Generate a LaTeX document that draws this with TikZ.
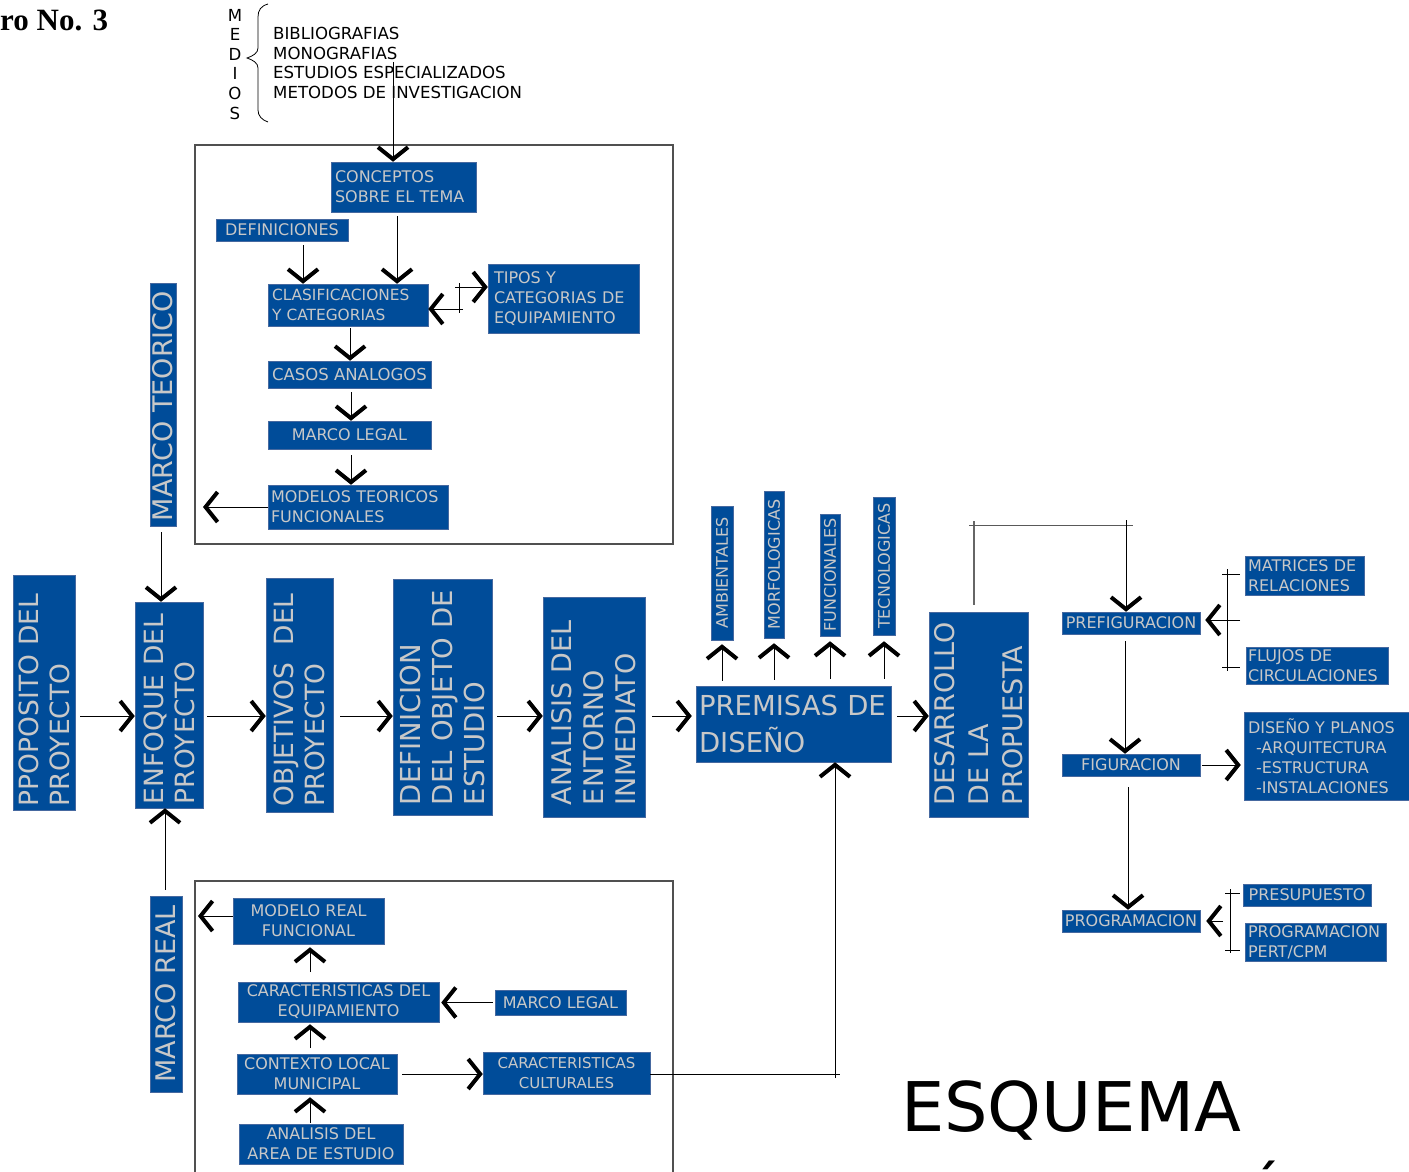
\documentclass[tikz,border=0pt]{standalone}
\usepackage{fontspec}
\setmainfont{DejaVu Sans}
\newfontfamily\titleserif{Liberation Serif}
\usetikzlibrary{arrows.meta,calc}
\definecolor{boxblue}{RGB}{0,76,153}
\definecolor{boxtext}{RGB}{200,200,200}
\definecolor{boxedge}{RGB}{70,105,160}
\definecolor{framegray}{RGB}{80,80,80}
\newcommand\fsz[2]{\fontsize{#1}{#2}\selectfont}
\begin{document}
\begin{tikzpicture}[x=1pt,y=-1pt,
  bx/.style={fill=boxblue,draw=boxedge,line width=0.5pt,text=boxtext,inner xsep=4pt,inner ysep=0pt,font=\fsz{16}{20}},
  rbx/.style={bx,rotate=90,font=\fsz{26.5}{31}},
  sbx/.style={bx,rotate=90,font=\fsz{16}{20}},
  arr/.style={line width=0.8pt,-{Straight Barb[length=12pt,width=30pt,line width=4pt]}},
  ln/.style={line width=0.8pt},
  frm/.style={draw=framegray,line width=1.2pt},
  plain/.style={inner sep=0pt,font=\fsz{16.6}{20}}]
\useasboundingbox (0,0) rectangle (1409,1172);

% ---------- header ----------
\node[anchor=base west,inner sep=0pt,font=\titleserif\bfseries\fsz{31}{34}] (title) at (0,31) {ro No. 3};
\node[plain] (mM) at (235,15) {M};
\node[plain] (mE) at (235,34) {E};
\node[plain] (mD) at (235,54) {D};
\node[plain] (mI) at (235,73) {I};
\node[plain] (mO) at (235,93) {O};
\node[plain] (mS) at (235,113) {S};
\draw[line width=0.8pt] (268,4) .. controls (261,6) and (258,10) .. (258,17) -- (258,48) .. controls (258,53) and (253,56) .. (247,58) .. controls (253,60) and (258,63) .. (258,68) -- (258,110) .. controls (258,116) and (262,120) .. (268,122);
\node[plain,anchor=west] (l1) at (273,33.5) {BIBLIOGRAFIAS};
\node[plain,anchor=west] (l2) at (273,53.5) {MONOGRAFIAS};
\node[plain,anchor=west] (l3) at (273,72.5) {ESTUDIOS ESPECIALIZADOS};
\node[plain,anchor=west] (l4) at (273,92.5) {METODOS DE INVESTIGACION};

% ---------- top frame ----------
\draw[frm] (195,145) rectangle (673,544);
\node[bx,minimum width=145pt,minimum height=50pt,text width=137pt,align=left] (conc) at (403.5,187) {CONCEPTOS\\SOBRE EL TEMA};
\node[bx,minimum width=132pt,minimum height=22pt,align=center] (def) at (282,230) {DEFINICIONES};
\node[bx,minimum width=160pt,minimum height=42pt,text width=152pt,align=left,font=\fsz{15.4}{20}] (clas) at (348,305) {CLASIFICACIONES\\Y CATEGORIAS};
\node[bx,minimum width=151pt,minimum height=69pt,text width=139pt,inner xsep=6pt,align=left] (tipos) at (563.5,298.5) {TIPOS Y\\CATEGORIAS DE\\EQUIPAMIENTO};
\node[bx,minimum width=163pt,minimum height=27pt,align=center,font=\fsz{16.5}{20}] (casos) at (349.5,374.5) {CASOS ANALOGOS};
\node[bx,minimum width=163pt,minimum height=28pt,align=center] (mleg) at (349.5,435) {MARCO LEGAL};
\node[bx,minimum width=180pt,minimum height=44pt,text width=174pt,inner xsep=3pt,align=left] (mod) at (358,507) {MODELOS TEORICOS\\FUNCIONALES};

\coordinate (m1) at (393,62);
\draw[arr] (m1) -- (m1 |- conc.north);
\coordinate (d1) at ($(def.south)+(21,4)$);
\draw[arr] (d1) -- (d1 |- clas.north);
\coordinate (c3) at ($(conc.south)+(-6.5,4)$);
\draw[arr] (c3) -- (c3 |- clas.north);
\coordinate (t1) at (455,287);
\draw[arr] (t1) -- (t1 -| tipos.west);
\coordinate (t2) at (463,309);
\draw[arr] (t2) -- (t2 -| clas.east);
\draw[ln] (459,283) -- (459,313);
\coordinate (k1) at ($(clas.south)+(2,2)$);
\draw[arr] (k1) -- (k1 |- casos.north);
\coordinate (k2) at ($(casos.south)+(1.5,4)$);
\draw[arr] (k2) -- (k2 |- mleg.north);
\coordinate (k3) at ($(mleg.south)+(1.5,6)$);
\draw[arr] (k3) -- (k3 |- mod.north);
\coordinate (ml) at (203,507);
\draw[arr] (mod.west) -- (ml);

% ---------- marco teorico ----------
\node[bx,rotate=90,minimum width=243pt,minimum height=26pt,text width=233pt,inner xsep=5pt,align=left,font=\fsz{27}{31}] (mteo) at (163,404.5) {MARCO TEORICO};

% ---------- main row ----------
\node[rbx,minimum width=235pt,minimum height=62pt,text width=227pt,align=left] (pro) at (44,692.5) {PPOPOSITO DEL\\PROYECTO};
\node[rbx,minimum width=206pt,minimum height=68pt,text width=198pt,align=left] (enf) at (169,705) {ENFOQUE DEL\\PROYECTO};
\node[rbx,minimum width=234pt,minimum height=67pt,text width=222pt,inner xsep=6pt,align=left] (obj) at (299.5,695) {OBJETIVOS\ \ DEL\\PROYECTO};
\node[rbx,minimum width=236pt,minimum height=99pt,text width=216pt,inner xsep=10pt,align=left,font=\fsz{27.5}{32}] (defn) at (442.5,697) {DEFINICION\\DEL OBJETO DE\\ESTUDIO};
\node[rbx,minimum width=220pt,minimum height=102pt,text width=196pt,inner xsep=12pt,align=left,font=\fsz{27}{32}] (ana) at (594,707) {ANALISIS DEL\\ENTORNO\\INMEDIATO};
\node[bx,minimum width=195pt,minimum height=76pt,text width=189pt,inner xsep=3pt,align=left,font=\fsz{27.5}{37}] (prem) at (793.5,724) {PREMISAS DE\\DISEÑO};
\node[rbx,minimum width=205pt,minimum height=99pt,text width=181pt,inner xsep=12pt,align=left,font=\fsz{27}{34}] (des) at (978.5,714.5) {DESARROLLO\\DE LA\\PROPUESTA};

\coordinate (row) at (0,716);
\draw[arr] ($(pro.south |- row)+(5,0)$) -- (enf.north |- row);
\draw[arr] ($(enf.south |- row)+(4,0)$) -- (obj.north |- row);
\draw[arr] ($(obj.south |- row)+(7,0)$) -- (defn.north |- row);
\draw[arr] ($(defn.south |- row)+(5,0)$) -- (ana.north |- row);
\draw[arr] ($(ana.south |- row)+(7,0)$) -- ($(prem.west |- row)+(-4,0)$);
\draw[arr] ($(prem.east |- row)+(6,0)$) -- (des.north |- row);

\coordinate (q1) at ($(mteo.west)+(-2,6)$);
\draw[arr] (q1) -- (q1 |- enf.east);

% ---------- marco real ----------
\node[bx,rotate=90,minimum width=196pt,minimum height=32pt,align=center,font=\fsz{27}{31}] (mreal) at (166,994) {MARCO REAL};
\coordinate (r1) at ($(mreal.east)+(-1,-6)$);
\draw[arr] (r1) -- (r1 |- enf.west);

% ---------- premisas sub boxes ----------
\node[sbx,minimum width=134pt,minimum height=22pt,align=center] (amb) at (722,573) {AMBIENTALES};
\node[sbx,minimum width=147pt,minimum height=20pt,align=center] (mor) at (774,564.5) {MORFOLOGICAS};
\node[sbx,minimum width=122pt,minimum height=20pt,align=center] (fun) at (830,575) {FUNCIONALES};
\node[sbx,minimum width=138pt,minimum height=22pt,align=center] (tec) at (884,566) {TECNOLOGICAS};
\draw[arr,shorten <=5pt,shorten >=4pt] (prem.north -| amb.west) -- (amb.west);
\draw[arr,shorten <=6pt,shorten >=5pt] (prem.north -| mor.west) -- (mor.west);
\draw[arr,shorten <=7pt,shorten >=5pt] (prem.north -| fun.west) -- (fun.west);
\draw[arr,shorten <=7pt,shorten >=6pt] (prem.north -| tec.west) -- (tec.west);

% ---------- right side ----------
\node[bx,minimum width=138pt,minimum height=22pt,align=center,inner xsep=1pt] (pref) at (1131,623) {PREFIGURACION};
\node[bx,minimum width=119pt,minimum height=39pt,text width=113pt,inner xsep=3pt,align=left] (mat) at (1304.5,575.5) {MATRICES DE\\RELACIONES};
\node[bx,minimum width=142pt,minimum height=37pt,text width=138pt,inner xsep=2pt,align=left] (flu) at (1317,665.5) {FLUJOS DE\\CIRCULACIONES};
\node[bx,minimum width=138pt,minimum height=22pt,align=center] (fig) at (1131,765) {FIGURACION};
\node[bx,minimum width=165pt,minimum height=88pt,text width=157pt,align=left] (dis) at (1326.5,756) {DISEÑO Y PLANOS\\\hspace*{8pt}-ARQUITECTURA\\\hspace*{8pt}-ESTRUCTURA\\\hspace*{8pt}-INSTALACIONES};
\node[bx,minimum width=138pt,minimum height=22pt,align=center,inner xsep=1pt] (prog) at (1131,921) {PROGRAMACION};
\node[bx,minimum width=128pt,minimum height=22pt,align=center] (pres) at (1307,895) {PRESUPUESTO};
\node[bx,minimum width=141pt,minimum height=38pt,text width=135pt,inner xsep=3pt,align=left] (pert) at (1315.5,942) {PROGRAMACION\\PERT/CPM};

\coordinate (dd0) at ($(des.east)+(-4.5,-7)$);
\coordinate (dd1) at (974,521);
\draw[ln,draw=black!60,line width=1.2pt] (dd0) -- (dd1);
\draw[ln,draw=black!65] (969,525) -- (1133,525);
\coordinate (dd2) at (1126,520);
\draw[arr] (dd2) -- (dd2 |- pref.north);

\draw[ln] (1227,569) -- (1227,671);
\draw[ln] (1222,574) -- (1240,574);
\draw[ln] (1222,667) -- (1240,667);
\coordinate (pb) at (1240,620);
\draw[arr,shorten >=5pt] (pb) -- (pb -| pref.east);

\coordinate (f1) at ($(pref.south)+(-6,7)$);
\draw[arr] (f1) -- (f1 |- fig.north);
\draw[arr] ($(fig.east)+(2,0)$) -- ($(dis.west |- fig.east)+(-3,0)$);
\coordinate (g1) at ($(fig.south)+(-3,11)$);
\draw[arr] (g1) -- (g1 |- prog.north);

\draw[ln] (1230,889) -- (1230,953);
\draw[ln] (1225,893) -- (1240,893);
\draw[ln] (1225,950) -- (1240,950);
\coordinate (pg) at (1223,921);
\draw[arr,shorten >=6pt] (pg) -- (pg -| prog.east);

% ---------- bottom frame ----------
\draw[frm] (195,1190) -- (195,881) -- (673,881) -- (673,1190);
\node[bx,minimum width=151pt,minimum height=46pt,align=center] (mrf) at (308.5,921) {MODELO REAL\\FUNCIONAL};
\node[bx,minimum width=201pt,minimum height=40pt,align=center,inner xsep=2pt] (ceq) at (338.5,1002) {CARACTERISTICAS DEL\\EQUIPAMIENTO};
\node[bx,minimum width=131pt,minimum height=25pt,align=center] (mlb) at (560.5,1002.5) {MARCO LEGAL};
\node[bx,minimum width=160pt,minimum height=40pt,align=center] (ctx) at (317,1074) {CONTEXTO LOCAL\\MUNICIPAL};
\node[bx,minimum width=167pt,minimum height=42pt,align=center,font=\fsz{15}{20}] (ccu) at (566.5,1073) {CARACTERISTICAS\\CULTURALES};
\node[bx,minimum width=164pt,minimum height=40pt,align=center] (ana2) at (321,1144) {ANALISIS DEL\\AREA DE ESTUDIO};

\coordinate (bl) at (198,916);
\draw[arr] (mrf.west |- bl) -- (bl);
\coordinate (b1) at (310,972);
\draw[arr,shorten >=3pt] (b1) -- (b1 |- mrf.south);
\draw[arr] ($(mlb.west)+(-2,0)$) -- ($(ceq.east |- mlb.west)+(2,0)$);
\coordinate (b2) at (310,1048);
\draw[arr,shorten >=2pt] (b2) -- (b2 |- ceq.south);
\draw[arr,shorten <=5pt] (ctx.east) -- (ccu.west |- ctx.east);
\coordinate (b3) at (310,1123);
\draw[arr,shorten >=3pt] (b3) -- (b3 |- ctx.south);

\coordinate (cc1) at (840,1074);
\draw[ln] (ccu.east |- cc1) -- (cc1);
\coordinate (cc2) at (835,1078);
\draw[arr] (cc2) -- (cc2 |- prem.south);

% ---------- title ----------
\node[anchor=base west,inner sep=0pt,font=\fsz{68.5}{72}] (esq) at (901,1131) {ESQUEMA};
\node[anchor=base west,inner sep=0pt,font=\fsz{68.5}{72}] (acc) at (1240,1224) {Ó};
\end{tikzpicture}
\end{document}
